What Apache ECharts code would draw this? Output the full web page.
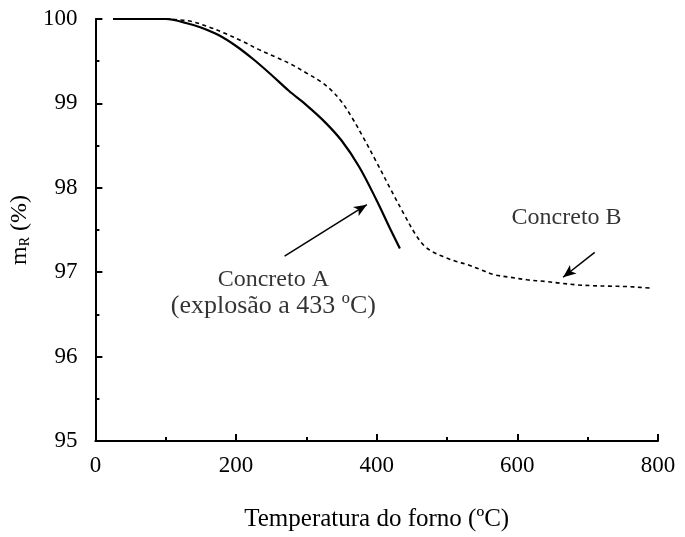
<!DOCTYPE html>
<html>
<head>
<meta charset="utf-8">
<script src="https://cdn.jsdelivr.net/npm/echarts@6/dist/echarts.min.js"></script>
<style>html,body{margin:0;padding:0;background:#fff}#c{width:685px;height:537px}</style>
</head>
<body>
<div id="c"></div>
<script>
// Concreto A (solid) : [temperature °C, residual mass %]
const concretoA = [[25,100],[60,100],[100,100],[130,99.95],[150,99.90],[175,99.81],[200,99.68],[225,99.52],[250,99.34],[275,99.15],[300,98.98],[325,98.79],[350,98.56],[375,98.25],[400,97.85],[420,97.50],[433,97.28]];
// Concreto B (dashed)
const concretoB = [[25,100],[60,100],[100,100],[120,99.99],[137,99.97],[160,99.91],[184,99.83],[208,99.74],[232,99.64],[256,99.55],[279,99.46],[300,99.36],[320,99.26],[335,99.16],[350,99.02],[365,98.83],[380,98.61],[400,98.30],[420,97.98],[440,97.67],[455,97.45],[468,97.31],[482,97.23],[496,97.18],[512,97.13],[529,97.09],[548,97.03],[567,96.97],[590,96.94],[614,96.91],[640,96.89],[661,96.87],[685,96.85],[708,96.84],[730,96.835],[755,96.83],[775,96.82],[792,96.81]];
const xTicks = [0,200,400,600,800];
const yTicks = [95,96,97,98,99,100];
// annotation arrows: [from, to] in data coords
const arrowA = [[269,97.19],[386,97.80]];
const arrowB = [[710,97.235],[665,96.94]];
// annotation texts
const labelA = {pos:[253,96.75], line1:'Concreto A', line2:'(explosão a 433 ºC)'};
const labelB = {pos:[670,97.64], text:'Concreto B'};

const FONT = '"Liberation Serif","Times New Roman",serif';
const INK = '#000';
const chart = echarts.init(document.getElementById('c'), null, {renderer:'canvas'});
function axisBase(){
  return {
    axisLine:{show:true,onZero:false,lineStyle:{color:INK,width:2}},
    axisTick:{show:true,inside:true,length:7,interval:0,lineStyle:{color:INK,width:2}},
    minorTick:{show:true,splitNumber:2,length:4,lineStyle:{color:INK,width:2}},
    splitLine:{show:false},
    axisLabel:{color:INK,fontFamily:FONT,fontSize:23}
  };
}
const xA = axisBase(), yA = axisBase();
chart.setOption({
  animation:false,
  backgroundColor:'#fff',
  grid:{left:93,right:27,top:19,bottom:90,containLabel:false},
  xAxis:Object.assign(xA, {
    type:'value', min:xTicks[0], max:xTicks[xTicks.length-1], interval:200,
    name:'Temperatura do forno (ºC)', nameLocation:'middle', nameGap:66,
    nameTextStyle:{color:INK,fontFamily:FONT,fontSize:25}
  }),
  yAxis:Object.assign(yA, {
    type:'value', min:yTicks[0], max:yTicks[yTicks.length-1], interval:1,
    name:'{m|m}{s|R}{m| (%)}', nameLocation:'middle', nameGap:53, nameRotate:90,
    nameTextStyle:{color:INK,fontFamily:FONT,fontSize:24,
      rich:{m:{fontFamily:FONT,fontSize:24,color:INK},s:{fontFamily:FONT,fontSize:14,color:INK,verticalAlign:'bottom',padding:[8,0,0,0]}}}
  }),
  series:[
    {type:'line', name:'Concreto A', data:concretoA, showSymbol:false, smooth:0.35,
      lineStyle:{color:INK,width:2.2}, z:3,
      markLine:{silent:true, symbol:['none','arrow'], symbolSize:[8,13],
        lineStyle:{color:INK,width:1.5,type:'solid'}, label:{show:false},
        data:[[{coord:arrowA[0]},{coord:arrowA[1]}],[{coord:arrowB[0]},{coord:arrowB[1]}]]}},
    {type:'line', name:'Concreto B', data:concretoB, showSymbol:false, smooth:0.35,
      lineStyle:{color:INK,width:1.6,type:[4,3.5]}, z:2},
    {type:'scatter', symbolSize:0, silent:true,
      data:[
        {value:labelA.pos, label:{formatter:'{a|'+labelA.line1+'}\n{b|'+labelA.line2+'}'}},
        {value:labelB.pos, label:{formatter:'{a|'+labelB.text+'}'}}
      ],
      label:{show:true, position:'inside', color:INK, fontFamily:FONT, fontSize:24, align:'center', verticalAlign:'middle',
        rich:{a:{fontFamily:FONT,fontSize:24,lineHeight:25,color:INK,align:'center'},
              b:{fontFamily:FONT,fontSize:26,lineHeight:27,color:INK,align:'center'}}}}
  ]
});
// set axis label margins after base options
chart.setOption({xAxis:{axisLabel:{margin:13}}, yAxis:{axisLabel:{margin:18}}});
</script>
</body>
</html>
